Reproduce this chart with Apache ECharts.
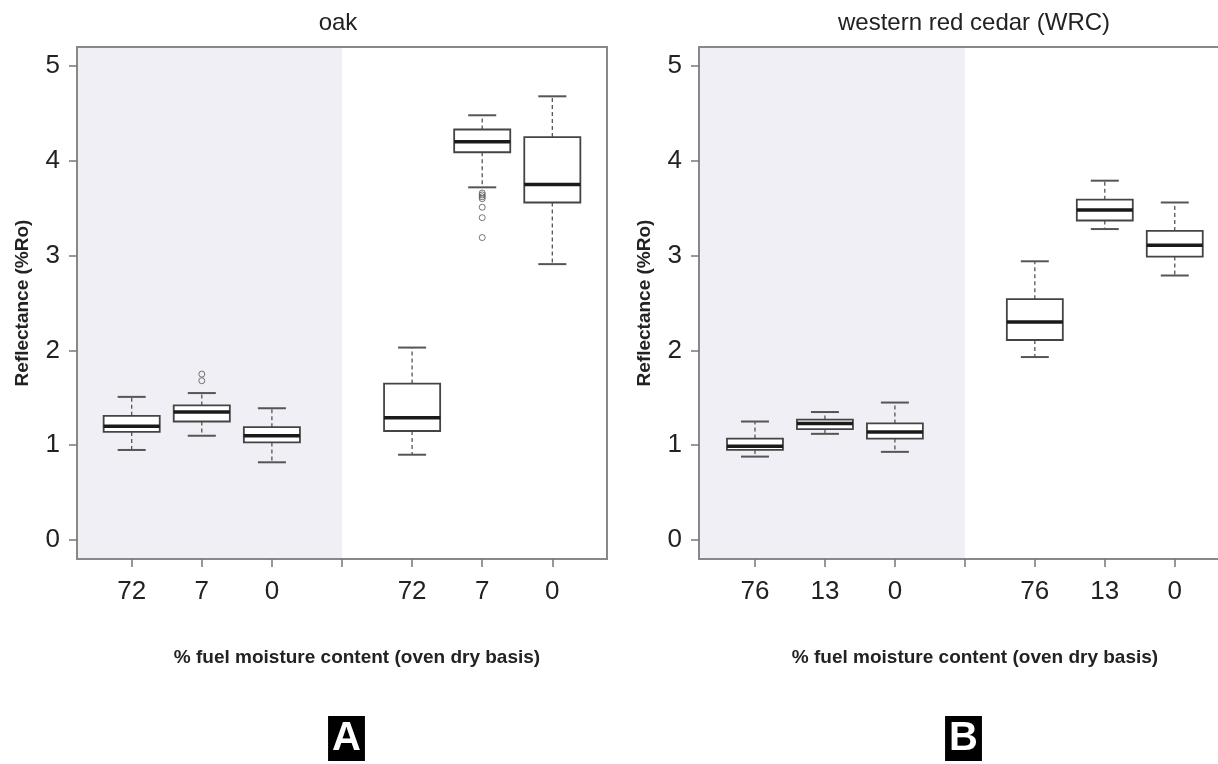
<!DOCTYPE html>
<html><head><meta charset="utf-8">
<script src="https://cdn.jsdelivr.net/npm/echarts@6/dist/echarts.min.js"></script>
<style>html,body{margin:0;padding:0;background:#fff}#c{width:1218px;height:764px}</style>
</head><body><div id="c"></div>
<script>
// ---- data ----
const panelTitles = ['oak', 'western red cedar (WRC)'];
const panelLetters = ['A', 'B'];
const oakLabels = ['72', '7', '0', '72', '7', '0'];
const wrcLabels = ['76', '13', '0', '76', '13', '0'];
// [lower whisker, Q1, median, Q3, upper whisker]
const oakBoxes = [
  [0.95, 1.14, 1.20, 1.31, 1.51],
  [1.10, 1.25, 1.35, 1.42, 1.55],
  [0.82, 1.03, 1.10, 1.19, 1.39],
  [0.90, 1.15, 1.29, 1.65, 2.03],
  [3.72, 4.09, 4.20, 4.33, 4.48],
  [2.91, 3.56, 3.75, 4.25, 4.68]
];
// [box index, value]
const oakOutliers = [[1, 1.75], [1, 1.68], [4, 3.66], [4, 3.64], [4, 3.62], [4, 3.60], [4, 3.51], [4, 3.40], [4, 3.19]];
const wrcBoxes = [
  [0.88, 0.95, 0.99, 1.07, 1.25],
  [1.12, 1.17, 1.23, 1.27, 1.35],
  [0.93, 1.07, 1.14, 1.23, 1.45],
  [1.93, 2.11, 2.30, 2.54, 2.94],
  [3.28, 3.37, 3.48, 3.59, 3.79],
  [2.79, 2.99, 3.11, 3.26, 3.56]
];
const wrcOutliers = [];
const yTicks = [0, 1, 2, 3, 4, 5];
const xTitle = '% fuel moisture content (oven dry basis)';
const yTitle = 'Reflectance (%Ro)';

// ---- layout / style ----
const FONT = '"Liberation Sans", Arial, Helvetica, sans-serif';
const yMin = -0.2, yMax = 5.2;
const xMins = [0.22, 0.2];
const xMaxes = [7.78, 7.618];   // right panel is cut off by the image edge
const boxW = 0.8, capW = 0.4, shadeEnd = 4;
const pos = i => (i < 3 ? i + 1 : i + 2);
const tickPos = [1, 2, 3, 4, 5, 6, 7];
const labelPos = [0, 1, 2, 3, 4, 5].map(pos);
const frame = {color: '#888', width: 2};

function renderBox(params, api) {
  const x = api.value(0);
  const c = v => api.coord([x, v]);
  const pLo = c(api.value(1)), pQ1 = c(api.value(2)), pMd = c(api.value(3)),
        pQ3 = c(api.value(4)), pHi = c(api.value(5));
  const hw = api.size([boxW / 2, 0])[0];
  const cw = api.size([capW / 2, 0])[0];
  const cx = pLo[0];
  const dash = {stroke: '#555', lineWidth: 1.3, lineDash: [4, 3]};
  const cap = {stroke: '#555', lineWidth: 2};
  return {type: 'group', children: [
    {type: 'line', shape: {x1: cx, y1: pQ3[1], x2: cx, y2: pHi[1]}, style: dash},
    {type: 'line', shape: {x1: cx, y1: pQ1[1], x2: cx, y2: pLo[1]}, style: dash},
    {type: 'line', shape: {x1: cx - cw, y1: pHi[1], x2: cx + cw, y2: pHi[1]}, style: cap},
    {type: 'line', shape: {x1: cx - cw, y1: pLo[1], x2: cx + cw, y2: pLo[1]}, style: cap},
    {type: 'rect', shape: {x: cx - hw, y: pQ3[1], width: 2 * hw, height: pQ1[1] - pQ3[1]},
      style: {fill: '#fff', stroke: '#444', lineWidth: 1.8}},
    {type: 'line', shape: {x1: cx - hw, y1: pMd[1], x2: cx + hw, y2: pMd[1]},
      style: {stroke: '#1a1a1a', lineWidth: 3.5}}
  ]};
}
function renderShade(params, api) {
  const p1 = api.coord([api.value(0), yMax]);
  const p2 = api.coord([api.value(1), yMin]);
  return {type: 'rect', shape: {x: p1[0], y: p1[1], width: p2[0] - p1[0], height: p2[1] - p1[1]},
    style: {fill: '#f0eff5'}};
}

const grids = [
  {left: 77, top: 47, width: 530, height: 512, show: true, borderColor: frame.color, borderWidth: frame.width},
  {left: 699, top: 47, width: 520, height: 512, show: false}
];
const labelSets = [oakLabels, wrcLabels];
const xAxes = labelSets.map((labs, g) => ({
  type: 'value', gridIndex: g, min: xMins[g], max: xMaxes[g],
  splitLine: {show: false},
  axisLine: {show: true, onZero: false, lineStyle: frame},
  axisTick: {show: true, length: 8, customValues: tickPos, lineStyle: {color: '#777', width: 1.5}},
  axisLabel: {customValues: labelPos, margin: 20, fontSize: 26, color: '#222', fontFamily: FONT,
    formatter: v => { const i = labelPos.indexOf(Math.round(v)); return i >= 0 ? labs[i] : ''; }}
}));
// top frame line of the right panel (its right edge is cut off by the image)
xAxes.push({type: 'value', gridIndex: 1, position: 'top', min: xMins[1], max: xMaxes[1],
  splitLine: {show: false}, axisTick: {show: false}, axisLabel: {show: false},
  axisLine: {show: true, onZero: false, lineStyle: frame}});
const yAxes = [0, 1].map(g => ({
  type: 'value', gridIndex: g, min: yMin, max: yMax,
  splitLine: {show: false},
  axisLine: {show: true, onZero: false, lineStyle: frame},
  axisTick: {show: true, length: 8, customValues: yTicks, lineStyle: {color: '#777', width: 1.5}},
  axisLabel: {customValues: yTicks, margin: 17, fontSize: 26, color: '#222', fontFamily: FONT},
  name: yTitle, nameLocation: 'middle', nameGap: 45, nameRotate: 90,
  nameTextStyle: {fontSize: 19, fontWeight: 'bold', color: '#222', fontFamily: FONT}
}));

const series = [];
[[oakBoxes, oakOutliers], [wrcBoxes, wrcOutliers]].forEach(([boxes, outs], g) => {
  series.push({type: 'custom', xAxisIndex: g, yAxisIndex: g, z: -1, silent: true,
    renderItem: renderShade, data: [[xMins[g], shadeEnd]], encode: {x: [0, 1], y: []}});
  series.push({type: 'custom', xAxisIndex: g, yAxisIndex: g, z: 3, silent: true,
    renderItem: renderBox, encode: {x: 0, y: [1, 2, 3, 4, 5]},
    data: boxes.map((b, i) => [pos(i)].concat(b))});
  series.push({type: 'scatter', xAxisIndex: g, yAxisIndex: g, z: 4, silent: true,
    symbol: 'circle', symbolSize: 6,
    itemStyle: {color: 'rgba(0,0,0,0)', borderColor: '#555', borderWidth: 1},
    data: outs.map(o => [pos(o[0]), o[1]])});
});

const titleCenters = [338, 974];
const xTitleCenters = [357, 975];
const letterCenters = [342.5, 959.5];
const titles = [];
[0, 1].forEach(g => {
  titles.push({text: panelTitles[g], left: titleCenters[g], top: 11, textAlign: 'center', padding: 0,
    textStyle: {fontSize: 24, fontWeight: 'normal', color: '#222', fontFamily: FONT}});
  titles.push({text: xTitle, left: xTitleCenters[g], top: 648, textAlign: 'center', padding: 0,
    textStyle: {fontSize: 19, fontWeight: 'bold', color: '#222', fontFamily: FONT}});
  titles.push({text: panelLetters[g], left: letterCenters[g], top: 716, textAlign: 'center',
    padding: [3, 4, 2, 4], backgroundColor: '#000',
    textStyle: {fontSize: 40, lineHeight: 40, fontWeight: 'bold', color: '#fff', fontFamily: FONT}});
});

const chart = echarts.init(document.getElementById('c'), null, {renderer: 'canvas'});
chart.setOption({
  animation: false,
  backgroundColor: '#fff',
  title: titles,
  grid: grids,
  xAxis: xAxes,
  yAxis: yAxes,
  series: series
});
</script></body></html>
